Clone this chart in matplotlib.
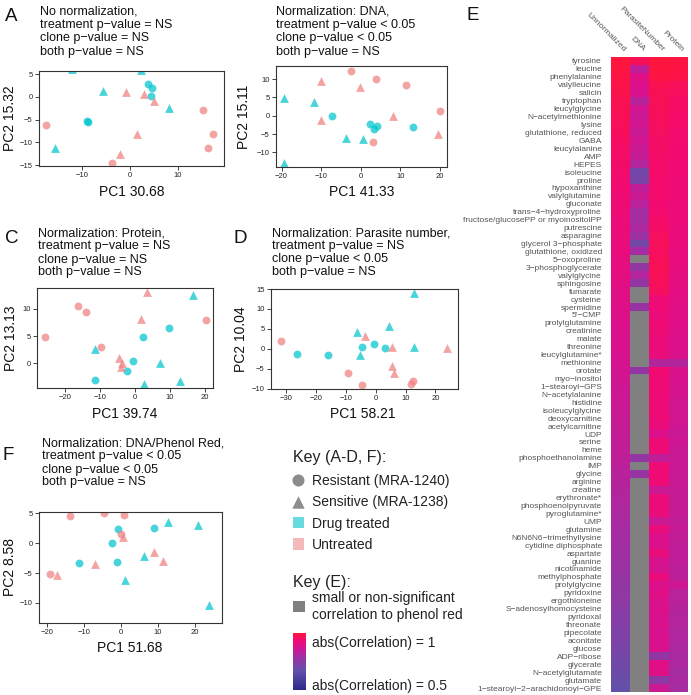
import numpy as np
import matplotlib
matplotlib.use('Agg')
import matplotlib.pyplot as plt
from matplotlib.colors import LinearSegmentedColormap, Normalize
from matplotlib.patches import Rectangle

plt.rcParams['font.family'] = ['Liberation Sans', 'DejaVu Sans']

# ---------------- DATA ----------------
clone = ['Resistant'] * 5 + ['Sensitive'] * 5 + ['Resistant'] * 5 + ['Sensitive'] * 5
treatment = ['Drug treated'] * 10 + ['Untreated'] * 10

# Panel A (no normalization)
pcA1 = [3.75, 4.6, 4.4, -8.9, -8.8, -12.0, 2.2, -5.6, 8.1, -15.6,
        -17.4, -3.7, 15.2, 17.4, 16.25, -0.8, 3.0, 5.1, 1.5, -2.0]
pcA2 = [2.8, 1.9, 0.15, -5.4, -5.5, 6.0, 5.9, 1.3, -2.4, -11.3,
        -6.2, -14.6, -2.9, -8.1, -11.2, 0.97, 0.5, -0.9, -8.1, -12.6]
# Panel B (DNA)
pcB1 = [-7.3, 2.35, 3.4, 4.2, 13.1, -19.3, -11.8, -3.7, 0.7, -19.5,
        -2.45, 3.8, 11.5, 20.0, 3.2, -10.1, -0.2, -10.1, 8.1, 19.4]
pcB2 = [-0.1, -2.3, -3.5, -2.8, -3.1, 4.9, 3.8, -6.0, -6.3, -12.8,
        12.3, 10.1, 8.3, 1.4, -7.2, 9.5, 7.9, -1.2, 0.0, -5.1]
# Panel C (Protein)
pcC1 = [2.4, 9.8, -0.5, -2.4, -11.3, 16.5, -11.4, 7.1, 2.6, 12.9,
        -25.7, -16.4, -14.1, -9.7, 20.2, 3.4, 1.7, -4.5, -3.8, -4.0]
pcC2 = [4.9, 6.45, 0.4, -1.3, -3.1, 12.5, 2.7, 0.0, -3.8, -3.2,
        4.9, 10.5, 9.4, 3.0, 8.0, 13.0, 8.2, 0.9, 0.0, -0.6]
# Panel D (Parasite number)
pcD1 = [-26.5, -16.1, -4.5, -0.5, 3.2, 13.0, -6.2, 4.35, -5.4, 13.0,
        -31.9, -9.3, -4.6, 12.4, 11.8, -3.6, 5.4, 5.6, 6.2, 24.0]
pcD2 = [-1.3, -1.6, 0.5, 1.1, 0.1, 14.0, 4.2, 5.7, -1.6, 0.5,
        2.0, -6.1, -9.0, -8.0, -8.8, 3.2, 0.4, -4.25, -6.0, 0.2]
# Panel F (DNA / Phenol red)
pcF1 = [-0.7, 9.0, -2.35, -11.35, -1.0, 12.6, 20.7, 6.2, 1.1, 23.9,
        -13.7, -4.7, 0.8, -19.2, 0.1, 0.6, -17.4, -7.0, 8.8, 11.3]
pcF2 = [2.45, 2.6, 0.1, -3.25, -3.2, 3.5, 3.0, -2.1, -6.2, -10.4,
        4.6, 5.0, 4.7, -5.2, 1.5, 1.1, -5.3, -3.5, -1.4, -3.0]

# Panel E heatmap
metabolites = [
    "tyrosine", "leucine", "phenylalanine", "valylleucine", "salicin", "tryptophan",
    "leucylglycine", "N\u2212acetylmethionine", "lysine", "glutathione, reduced", "GABA",
    "leucylalanine", "AMP", "HEPES", "isoleucine", "proline", "hypoxanthine",
    "valylglutamine", "gluconate", "trans\u22124\u2212hydroxyproline",
    "fructose/glucosePP or myoinositolPP", "putrescine", "asparagine",
    "glycerol 3\u2212phosphate", "glutathione, oxidized", "5\u2212oxoproline",
    "3\u2212phosphoglycerate", "valylglycine", "sphingosine", "fumarate", "cysteine",
    "spermidine", "5'\u2212CMP", "prolylglutamine", "creatinine", "malate", "threonine",
    "leucylglutamine*", "methionine", "orotate", "myo\u2212inositol", "1\u2212stearoyl\u2212GPS",
    "N\u2212acetylalanine", "histidine", "isoleucylglycine", "deoxycarnitine",
    "acetylcarnitine", "UDP", "serine", "heme", "phosphoethanolamine", "IMP", "glycine",
    "arginine", "creatine", "erythronate*", "phosphoenolpyruvate", "pyroglutamine*", "UMP",
    "glutamine", "N6N6N6\u2212trimethyllysine", "cytidine diphosphate", "aspartate",
    "guanine", "nicotinamide", "methylphosphate", "prolylglycine", "pyridoxine",
    "ergothioneine", "S\u2212adenosylhomocysteine", "pyridoxal", "threonate", "pipecolate",
    "aconitate", "glucose", "ADP\u2212ribose", "glycerate", "N\u2212acetylglutamate",
    "glutamate", "1\u2212stearoyl\u22122\u2212arachidonoyl\u2212GPE"]
norm_methods = ["Unnormalized", "DNA", "ParasiteNumber", "Protein"]

nan = np.nan
corr_unnormalized = [
    1.00, 0.995, 0.99, 0.985, 0.98, 0.975, 0.972, 0.968, 0.965, 0.962,
    0.958, 0.955, 0.952, 0.948, 0.945, 0.942, 0.94, 0.937, 0.934, 0.931,
    0.928, 0.925, 0.922, 0.92, 0.917, 0.914, 0.911, 0.908, 0.905, 0.902,
    0.899, 0.896, 0.893, 0.89, 0.887, 0.884, 0.881, 0.878, 0.875, 0.872,
    0.869, 0.866, 0.863, 0.86, 0.857, 0.854, 0.851, 0.848, 0.845, 0.842,
    0.838, 0.834, 0.83, 0.826, 0.822, 0.818, 0.814, 0.81, 0.806, 0.802,
    0.797, 0.792, 0.787, 0.782, 0.776, 0.77, 0.764, 0.758, 0.752, 0.745,
    0.738, 0.731, 0.724, 0.717, 0.71, 0.702, 0.694, 0.686, 0.678, 0.67]
corr_dna = [
    0.97, 0.84, 0.90, 0.89, 0.88, 0.83, 0.87, 0.86, 0.87, 0.86,
    0.87, 0.86, 0.85, 0.82, 0.70, 0.71, 0.84, 0.86, 0.83, 0.80,
    0.80, 0.81, 0.78, 0.70, 0.80, nan, 0.76, 0.82, 0.76, nan,
    nan, 0.77, nan, nan, nan, nan, nan, nan, nan, 0.76,
    nan, nan, nan, nan, nan, nan, nan, nan, nan, nan,
    0.76, nan, 0.77, nan, nan, nan, nan, nan, nan, nan,
    nan, nan, nan, nan, nan, nan, nan, nan, nan, nan,
    nan, nan, nan, nan, nan, nan, nan, nan, nan, nan]
corr_parasite = [
    1.00, 0.995, 0.99, 0.975, 0.97, 0.97, 0.965, 0.965, 0.96, 0.96,
    0.955, 0.955, 0.95, 0.95, 0.95, 0.945, 0.945, 0.945, 0.94, 0.945,
    0.95, 0.955, 0.96, 0.965, 0.96, 0.965, 0.97, 0.97, 0.965, 0.96,
    0.93, 0.93, 0.925, 0.93, 0.93, 0.925, 0.925, 0.92, 0.82, 0.94,
    0.935, 0.935, 0.93, 0.93, 0.93, 0.93, 0.92, 0.89, 0.93, 0.93,
    0.84, 0.93, 0.935, 0.93, 0.86, 0.925, 0.925, 0.92, 0.86, 0.92,
    0.89, 0.885, 0.92, 0.88, 0.875, 0.92, 0.89, 0.90, 0.885, 0.885,
    0.88, 0.885, 0.88, 0.88, 0.885, 0.76, 0.90, 0.895, 0.75, 0.86]
corr_protein = [
    0.995, 0.99, 0.985, 0.965, 0.96, 0.955, 0.955, 0.95, 0.95, 0.945,
    0.945, 0.94, 0.94, 0.935, 0.935, 0.93, 0.93, 0.93, 0.925, 0.925,
    0.925, 0.92, 0.92, 0.92, 0.915, 0.915, 0.915, 0.91, 0.91, 0.905,
    0.905, 0.90, 0.90, 0.895, 0.895, 0.89, 0.89, 0.885, 0.82, 0.885,
    0.88, 0.875, 0.875, 0.87, 0.87, 0.87, 0.865, 0.86, 0.865, 0.86,
    0.855, 0.86, 0.855, 0.855, 0.85, 0.85, 0.85, 0.85, 0.845, 0.85,
    0.845, 0.84, 0.84, 0.84, 0.835, 0.835, 0.865, 0.83, 0.83, 0.825,
    0.82, 0.82, 0.815, 0.815, 0.81, 0.805, 0.81, 0.80, 0.805, 0.80]

# ---------------- STYLE ----------------
W, H = 691, 695
fig = plt.figure(figsize=(W / 100, H / 100), dpi=100)

CYAN = '#00C5CD'
PINK = '#F08080'
col_map = {'Drug treated': CYAN, 'Untreated': PINK}
mk_map = {'Resistant': 'o', 'Sensitive': '^'}
TXT = '#111111'


def axes_px(x0, y0, x1, y1, **kw):
    return fig.add_axes([x0 / W, 1 - y1 / H, (x1 - x0) / W, (y1 - y0) / H], **kw)


ov = fig.add_axes([0, 0, 1, 1], zorder=10)
ov.set_xlim(0, W)
ov.set_ylim(H, 0)
ov.axis('off')


def pca_panel(box, pc1, pc2, xlim, ylim, xticks, yticks):
    ax = axes_px(*box)
    for cl in ['Resistant', 'Sensitive']:
        for tr in ['Drug treated', 'Untreated']:
            idx = [i for i in range(len(pc1)) if clone[i] == cl and treatment[i] == tr]
            ax.scatter([pc1[i] for i in idx], [pc2[i] for i in idx],
                       marker=mk_map[cl], color=col_map[tr], alpha=0.72,
                       s=32 if cl == 'Resistant' else 40, linewidths=0)
    ax.set_xlim(*xlim)
    ax.set_ylim(*ylim)
    ax.set_xticks(xticks)
    ax.set_yticks(yticks)
    ax.tick_params(direction='out', length=3, width=0.6, labelsize=5.5, pad=1.5,
                   colors='#222222')
    for sp in ax.spines.values():
        sp.set_linewidth(0.8)
        sp.set_color('#333333')
    return ax


def title_lines(x, ys, lines):
    for y, t in zip(ys, lines):
        ov.text(x, y + 4.5, t, fontsize=9, ha='left', va='baseline', color=TXT)


def axis_labels(xl_pos, xl, yl_pos, yl):
    ov.text(*xl_pos, xl, fontsize=10, ha='center', va='center', color=TXT)
    ov.text(*yl_pos, yl, fontsize=10, ha='center', va='center', rotation=90, color=TXT)


# Panel A
pca_panel((39, 71, 224, 166), pcA1, pcA2, (-18.96, 19.6), (-15.2, 5.66),
          [-10, 0, 10], [-15, -10, -5, 0, 5])
title_lines(40, [10, 23.3, 36.7, 50],
            ["No normalization,", "treatment p\u2212value = NS",
             "clone p\u2212value = NS", "both p\u2212value = NS"])
axis_labels((131.5, 191.5), "PC1 30.68", (10, 118.5), "PC2 15.32")

# Panel B
pca_panel((276, 66, 447, 167), pcB1, pcB2, (-21.4, 21.8), (-14.0, 13.55),
          [-20, -10, 0, 10, 20], [-10, -5, 0, 5, 10])
title_lines(276.5, [10, 23.7, 37, 50],
            ["Normalization: DNA,", "treatment p\u2212value < 0.05",
             "clone p\u2212value < 0.05", "both p\u2212value = NS"])
axis_labels((361.5, 192.5), "PC1 41.33", (244, 116.5), "PC2 15.11")

# Panel C
pca_panel((37, 288, 213, 388), pcC1, pcC2, (-28, 22.3), (-4.5, 13.8),
          [-20, -10, 0, 10, 20], [0, 5, 10])
title_lines(37.7, [231.7, 245, 258.3, 271],
            ["Normalization: Protein,", "treatment p\u2212value = NS",
             "clone p\u2212value = NS", "both p\u2212value = NS"])
axis_labels((125, 414), "PC1 39.74", (11, 338), "PC2 13.13")

# Panel D
pca_panel((271, 289, 458, 389), pcD1, pcD2, (-35.1, 27.6), (-10.1, 14.9),
          [-30, -20, -10, 0, 10, 20], [-10, -5, 0, 5, 10, 15])
title_lines(272, [231.7, 244.3, 257.7, 271],
            ["Normalization: Parasite number,", "treatment p\u2212value = NS",
             "clone p\u2212value < 0.05", "both p\u2212value = NS"])
axis_labels((363, 414), "PC1 58.21", (241, 339), "PC2 10.04")

# Panel F
pca_panel((39, 512, 222, 623), pcF1, pcF2, (-22.2, 27.3), (-13.4, 5.25),
          [-20, -10, 0, 10, 20], [-10, -5, 0, 5])
title_lines(42, [441.7, 455, 468.3, 481],
            ["Normalization: DNA/Phenol Red,", "treatment p\u2212value < 0.05",
             "clone p\u2212value < 0.05", "both p\u2212value = NS"])
axis_labels((130, 648), "PC1 51.68", (10, 567), "PC2 8.58")

# Panel letters
for letter, x, y in [("A", 5, 21), ("C", 5, 243), ("D", 234, 243), ("F", 3, 460), ("E", 467, 20)]:
    ov.text(x, y, letter, fontsize=13.5, ha='left', va='baseline', color=TXT)

# ---------------- Heatmap (E) ----------------
cmap = LinearSegmentedColormap.from_list('corr', [
    (0.00, '#2b2a8c'),
    (0.34, '#6450aa'),
    (0.60, '#a62ca2'),
    (0.76, '#d8128f'),
    (0.88, '#f20a72'),
    (1.00, '#ff163c')])
cmap.set_bad('#808080')
cnorm = Normalize(vmin=0.5, vmax=1.0)

data = np.array([corr_unnormalized, corr_dna, corr_parasite, corr_protein], dtype=float).T
hax = axes_px(611, 57, 688, 692)
hax.imshow(np.ma.masked_invalid(data), cmap=cmap, norm=cnorm, aspect='auto',
           interpolation='nearest')
hax.set_yticks(range(len(metabolites)))
hax.set_yticklabels(metabolites, fontsize=6, color='#555555')
hax.tick_params(axis='y', length=0, pad=6.5)
hax.set_xticks([])
for sp in hax.spines.values():
    sp.set_visible(False)
for j, name in enumerate(norm_methods):
    hax.text(j + 0.2, -1.3, name, rotation=-45, rotation_mode='anchor',
             ha='right', va='center', fontsize=6, color='#555555', clip_on=False)

# ---------------- Keys ----------------
KT = '#222222'
ov.text(292.7, 462, "Key (A-D, F):", fontsize=11.5, ha='left', va='baseline', color=KT)
ov.scatter([298.5], [480], marker='o', s=75, color='#8c8c8c', linewidths=0)
ov.scatter([298.5], [501.5], marker='^', s=80, color='#8c8c8c', linewidths=0)
ov.add_patch(Rectangle((292.7, 516.5), 11.7, 11.7, color=CYAN, alpha=0.6, lw=0))
ov.add_patch(Rectangle((292.7, 538.2), 11.7, 11.7, color=PINK, alpha=0.55, lw=0))
for y, t in [(485, "Resistant (MRA-1240)"), (506, "Sensitive (MRA-1238)"),
             (527.7, "Drug treated"), (549.3, "Untreated")]:
    ov.text(311.7, y, t, fontsize=10, ha='left', va='baseline', color=KT)

ov.text(293.3, 586.7, "Key (E):", fontsize=11.5, ha='left', va='baseline', color=KT)
ov.add_patch(Rectangle((293.3, 600.7), 11.7, 11.7, color='#808080', lw=0))
ov.text(311.7, 602.3, "small or non-significant", fontsize=10, ha='left', va='baseline', color=KT)
ov.text(311.7, 619, "correlation to phenol red", fontsize=10, ha='left', va='baseline', color=KT)

cax = axes_px(292.7, 633.3, 305, 690)
cax.imshow(np.linspace(1.0, 0.5, 200)[:, None], cmap=cmap, norm=cnorm, aspect='auto')
cax.axis('off')
ov.text(311.7, 646.7, "abs(Correlation) = 1", fontsize=10, ha='left', va='baseline', color=KT)
ov.text(311.7, 690, "abs(Correlation) = 0.5", fontsize=10, ha='left', va='baseline', color=KT)

fig.savefig('out.png', dpi=100)
